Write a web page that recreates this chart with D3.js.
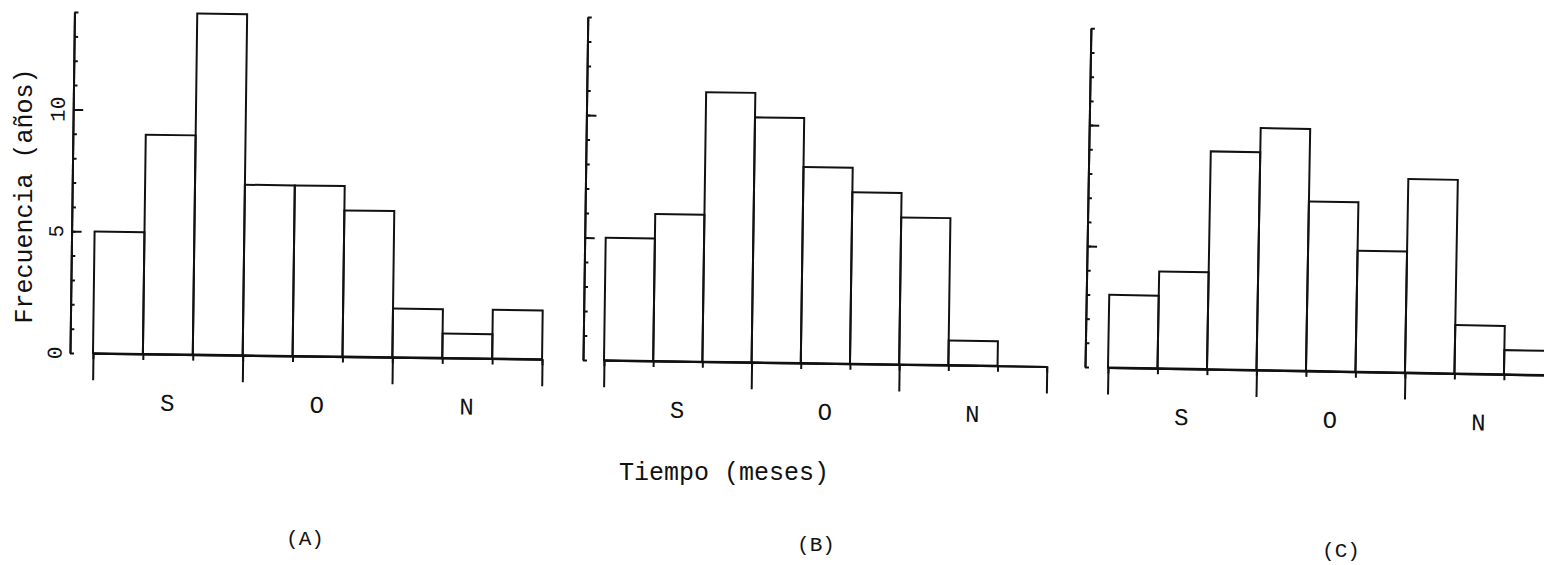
<!DOCTYPE html>
<html>
<head>
<meta charset="utf-8">
<script src="https://cdn.jsdelivr.net/npm/d3@7"></script>
<style>
  html, body { margin: 0; padding: 0; background: #fff; }
  svg { display: block; }
  text { font-family: "Liberation Mono", "DejaVu Sans Mono", monospace; fill: #111; }
</style>
</head>
<body>
<div id="chart"></div>
<script>
/*
Histogramas de frecuencia (A), (B), (C)
*/

// Data
var months = ["S", "O", "N"];
var monthPos = [1.5, 4.5, 7.5];        // centre of each month, in bins
var binEdges = [0, 1, 2, 3, 4, 5, 6, 7, 8, 9];
var monthEdges = [0, 3, 6, 9];
var freqA = [5, 9, 14, 7, 7, 6, 2, 1, 2];
var freqB = [5, 6, 11, 10, 8, 7, 6, 1, 0];
var freqC = [3, 4, 9, 10, 7, 5, 8, 2, 1];
var yTicks = [0, 1, 2, 3, 4, 5, 6, 7, 8, 9, 10, 11, 12, 13, 14];
var yMajor = [5, 10];
var yLabels = [0, 5, 10];
var panelNames = ["(A)", "(B)", "(C)"];

var W = 1544, H = 565;

// Panel layout (scan is slightly tilted, so each panel has a small rotation)
var panels = [
  { data: freqA, ax: 70,   y0: 353, x0: 93,   bw: 49.9, unit: 24.36, rot: 0.75, labels: true },
  { data: freqB, ax: 583,  y0: 360, x0: 604,  bw: 49.2, unit: 24.5,  rot: 0.8,  labels: false },
  { data: freqC, ax: 1085, y0: 367, x0: 1108, bw: 49.5, unit: 24.2,  rot: 1.0,  labels: false }
];

var svg = d3.select("#chart").append("svg")
  .attr("width", W)
  .attr("height", H)
  ;

panels.forEach(function(p, k) {
  var g = svg.append("g")
    .attr("transform", translate(p.ax, p.y0) + " " + rotate(p.rot))
    ;

  var x = d3.scaleLinear()
    .domain([0, 9])
    .range([p.x0 - p.ax, p.x0 - p.ax + 9 * p.bw]);

  var y = d3.scaleLinear()
    .domain([0, 14])
    .range([0, -14 * p.unit]);

  // Y axis, minor ticks
  g.append("g")
    .attr("class", "y minor")
    .call(d3.axisRight(y).tickValues(yTicks).tickSize(4).tickSizeOuter(0).tickFormat(""))
    ;
  // Y axis, major ticks
  g.append("g")
    .attr("class", "y major")
    .call(d3.axisRight(y).tickValues(yMajor).tickSize(10).tickSizeOuter(0).tickFormat(""))
    ;

  // Bars
  g.selectAll("rect.bar")
    .data(p.data.filter(function(v) { return v > 0; }).map(function(v, i) { return { i: i, v: v }; }))
    .enter().append("rect")
      .attr("class", "bar")
      .attr("x", function(d) { return x(d.i); })
      .attr("y", function(d) { return y(d.v); })
      .attr("width", function(d) { return x(d.i + 1) - x(d.i); })
      .attr("height", function(d) { return -y(d.v); })
      .style("fill", "none")
      .style("stroke", "#111")
      .style("stroke-width", 2)
      ;

  // X axis: short ticks at each bin, long ticks at month edges
  var xg = g.append("g").attr("class", "x");
  xg.append("g")
    .call(d3.axisBottom(x).tickValues(binEdges).tickSize(6).tickSizeOuter(0).tickFormat(""))
    ;
  xg.append("g")
    .call(d3.axisBottom(x).tickValues(monthEdges).tickSize(27).tickSizeOuter(0).tickFormat(""))
    ;

  // Month labels
  g.selectAll("text.month")
    .data(months)
    .enter().append("text")
      .attr("class", "month")
      .attr("x", function(d, i) { return x(monthPos[i]); })
      .attr("y", 50)
      .attr("text-anchor", "middle")
      .attr("dominant-baseline", "central")
      .style("font-size", "24px")
      .text(function(d) { return d; })
      ;

  // Tick labels (only on the first panel, rotated like the title)
  if (p.labels) {
    g.selectAll("text.ylab")
      .data(yLabels)
      .enter().append("text")
        .attr("class", "ylab")
        .attr("transform", function(d) { return translate(-14, y(d)) + " " + rotate(-90); })
        .attr("text-anchor", "middle")
        .attr("dominant-baseline", "central")
        .style("font-size", "21px")
        .text(function(d) { return d; })
        ;
  }

  // Panel name
  svg.append("text")
    .attr("x", [305, 816, 1341][k])
    .attr("y", [539, 545, 551][k])
    .attr("text-anchor", "middle")
    .attr("dominant-baseline", "central")
    .style("font-size", "21px")
    .text(panelNames[k])
    ;
});

// Line styles
svg.selectAll(".domain, .tick line")
  .style("stroke", "#111")
  .style("stroke-width", 2)
  ;

// Axis titles
svg.append("text")
  .attr("transform", translate(25, 196) + " " + rotate(-90))
  .attr("text-anchor", "middle")
  .attr("dominant-baseline", "central")
  .style("font-size", "25px")
  .text("Frecuencia (años)")
  ;

svg.append("text")
  .attr("x", 724)
  .attr("y", 473)
  .attr("text-anchor", "middle")
  .attr("dominant-baseline", "central")
  .style("font-size", "25px")
  .text("Tiempo (meses)")
  ;

function translate(x, y) {
  return "translate(" + x + " " + y + ")";
}

function rotate(a, cx, cy) {
  cx = cx || 0;
  cy = cy || 0;
  return "rotate(" + a + "," + cx + "," + cy + ")";
}
</script>
</body>
</html>
